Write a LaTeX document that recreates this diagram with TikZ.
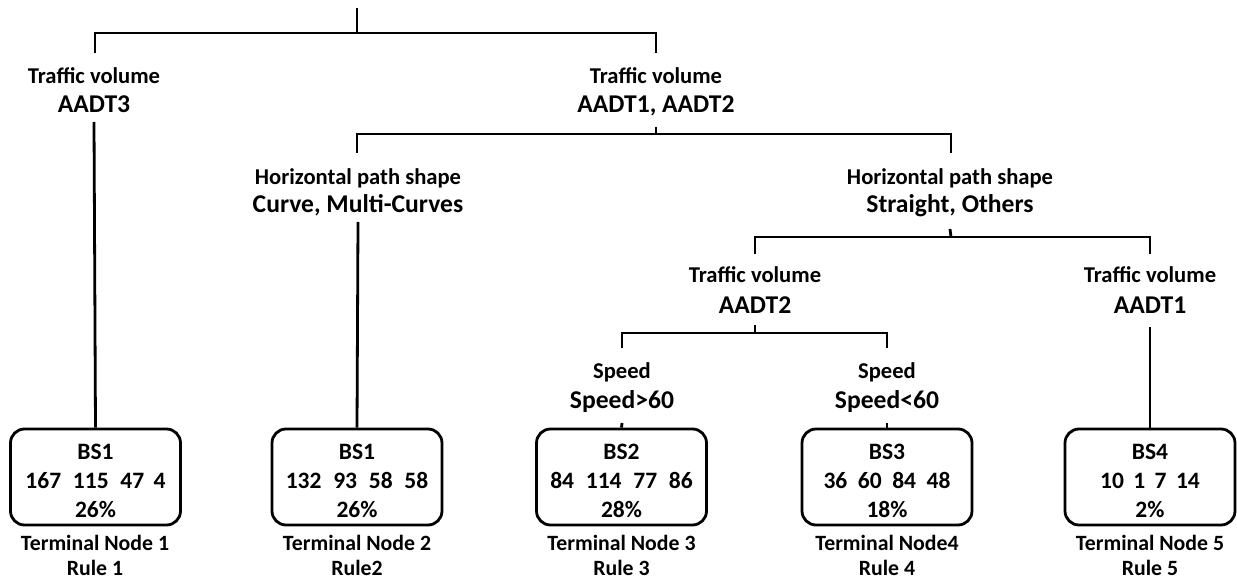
\documentclass[tikz,border=0pt]{standalone}
\usepackage{fontspec}
\setmainfont{Carlito}
\usetikzlibrary{calc}
\begin{document}
\begin{tikzpicture}[x=1pt,y=-1pt,
  ln/.style={line width=2.8pt},
  sm/.style={font=\fontsize{22.6}{25}\selectfont\bfseries, anchor=base, inner sep=0pt},
  bg/.style={font=\fontsize{25.6}{28}\selectfont\bfseries, anchor=base, inner sep=0pt},
  bx/.style={draw, line width=2.8pt, rounded corners=14pt, minimum width=170pt, minimum height=96pt, inner sep=0pt},
  bt/.style={font=\fontsize{23.5}{26}\selectfont\bfseries, anchor=base, inner sep=0pt},
  tm/.style={font=\fontsize{21.8}{24}\selectfont\bfseries, anchor=base, inner sep=0pt}]
\useasboundingbox (0,0) rectangle (1237,580);

% condition labels
\node[sm] (t1a) at (94,84) {Traffic volume};
\node[bg] (t1b) at (94,113) {AADT3};
\node[sm] (t2a) at (656,84) {Traffic volume};
\node[bg] (t2b) at (656,113) {AADT1, AADT2};
\node[sm] (h1a) at (358,185) {Horizontal path shape};
\node[bg] (h1b) at (358,213) {Curve, Multi-Curves};
\node[sm] (h2a) at (950,185) {Horizontal path shape};
\node[bg] (h2b) at (950,213) {Straight, Others};
\node[sm] (t3a) at (755,283) {Traffic volume};
\node[bg] (t3b) at (755,313) {AADT2};
\node[sm] (t4a) at (1150,283) {Traffic volume};
\node[bg] (t4b) at (1150,313) {AADT1};
\node[sm] (s1a) at (622,378) {Speed};
\node[bg] (s1b) at (622,408) {Speed>60};
\node[sm] (s2a) at (887,378) {Speed};
\node[bg] (s2b) at (887,408) {Speed<60};

% terminal boxes
\node[bx] (b1) at (95.5,477) {};
\node[bx] (b2) at (357,477) {};
\node[bx] (b3) at (621.5,477) {};
\node[bx] (b4) at (887,477) {};
\node[bx] (b5) at (1150,477) {};

\node[bt] (b1a) at (95.5,459) {BS1};
\node[bt] (b1b) at (95.5,488) {167\hspace{0.5em}115\hspace{0.5em}47\hspace{0.4em}4};
\node[bt] (b1c) at (95.5,517) {26\%};
\node[bt] (b2a) at (357,459) {BS1};
\node[bt] (b2b) at (357,488) {132\hspace{0.5em}93\hspace{0.5em}58\hspace{0.5em}58};
\node[bt] (b2c) at (357,517) {26\%};
\node[bt] (b3a) at (621.5,459) {BS2};
\node[bt] (b3b) at (621.5,488) {84\hspace{0.5em}114\hspace{0.5em}77\hspace{0.5em}86};
\node[bt] (b3c) at (621.5,517) {28\%};
\node[bt] (b4a) at (887,459) {BS3};
\node[bt] (b4b) at (887,488) {36\hspace{0.45em}60\hspace{0.45em}84\hspace{0.45em}48};
\node[bt] (b4c) at (887,517) {18\%};
\node[bt] (b5a) at (1150,459) {BS4};
\node[bt] (b5b) at (1150,488) {10\hspace{0.4em}1\hspace{0.4em}7\hspace{0.4em}14};
\node[bt] (b5c) at (1150,517) {2\%};

\node[tm] (n1a) at (95,550) {Terminal Node 1};
\node[tm] (n1b) at (95,575) {Rule 1};
\node[tm] (n2a) at (357,550) {Terminal Node 2};
\node[tm] (n2b) at (357,575) {Rule2};
\node[tm] (n3a) at (621.5,550) {Terminal Node 3};
\node[tm] (n3b) at (621.5,575) {Rule 3};
\node[tm] (n4a) at (887,550) {Terminal Node4};
\node[tm] (n4b) at (887,575) {Rule 4};
\node[tm] (n5a) at (1150,550) {Terminal Node 5};
\node[tm] (n5b) at (1150,575) {Rule 5};

% bracket coordinates
\coordinate (r0) at (357,8);
\coordinate (r1) at (357,33);
\coordinate (p1) at (95,53);
\coordinate (p2) at (656,53);
\coordinate (q1) at (357,153);
\coordinate (q0) at (656,134);
\coordinate (q2) at (951,153);
\coordinate (u1) at (755,254);
\coordinate (u0) at (951,237);
\coordinate (u2) at (1150,254);
\coordinate (v1) at (622,348);
\coordinate (v0) at (755,333);
\coordinate (v2) at (887,348);

% connectors
\draw[ln] (r0) -- (r1);
\draw[ln] (p1) |- (r1) -| (p2);
\draw[ln] ($(t1b.base)+(0,9)$) -- (b1.north);
\draw[ln] ($(t2b.base)+(0,14)$) -- (q0);
\draw[ln] (q1) |- (q0) -| (q2);
\draw[ln] ($(h1b.base)+(0,9)$) -- (b2.north);
\draw[ln] ($(h2b.base)+(0,16)$) -- (u0);
\draw[ln] (u1) |- (u0) -| (u2);
\draw[ln] ($(t3b.base)+(0,12)$) -- (v0);
\draw[ln] (v1) |- (v0) -| (v2);
\draw[ln] ($(t4b.base)+(0,14)$) -- (b5.north);
\draw[ln] ($(s1b.base)+(0,15)$) -- (b3.north);
\draw[ln] ($(s2b.base)+(0,15)$) -- (b4.north);
\end{tikzpicture}
\end{document}
